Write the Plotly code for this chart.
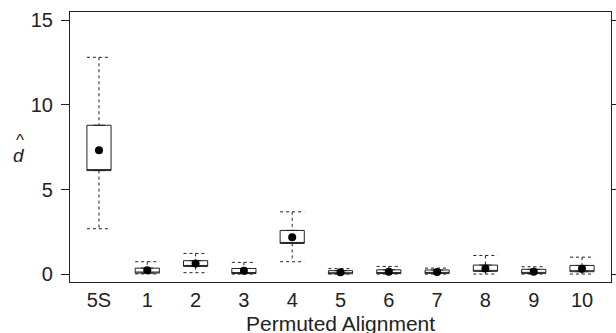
import plotly.graph_objects as go

categories = ["5S", "1", "2", "3", "4", "5", "6", "7", "8", "9", "10"]
upper_whisker = [12.82, 0.73, 1.22, 0.69, 3.68, 0.32, 0.45, 0.35, 1.10, 0.43, 1.00]
q3_values = [8.80, 0.35, 0.79, 0.33, 2.58, 0.20, 0.25, 0.24, 0.53, 0.28, 0.51]
q1_values = [6.12, 0.06, 0.45, 0.03, 1.81, 0.02, 0.03, 0.04, 0.16, 0.04, 0.14]
lower_whisker = [2.68, 0.01, 0.08, 0.0, 0.73, 0.0, 0.0, 0.0, 0.0, 0.0, 0.0]
mean_values = [7.32, 0.22, 0.63, 0.20, 2.17, 0.10, 0.14, 0.12, 0.33, 0.14, 0.31]
y_ticks = [0, 5, 10, 15]

positions = list(range(len(categories)))
half = 0.25
FONT = "Liberation Sans, Arial, Helvetica, sans-serif"

fig = go.Figure()

# dashed whiskers with caps
wx, wy = [], []
for p, hi, q3, q1, lo in zip(positions, upper_whisker, q3_values, q1_values, lower_whisker):
    wx += [p - half, p + half, None, p, p, None, p, p, None, p - half, p + half, None]
    wy += [hi, hi, None, hi, q3, None, q1, lo, None, lo, lo, None]
fig.add_trace(go.Scatter(x=wx, y=wy, mode="lines",
                         line=dict(color="#222", width=1, dash="3px,3px"),
                         hoverinfo="skip", showlegend=False))

# boxes (median line is hidden on the lower edge; the dot marks the centre)
fig.add_trace(go.Box(
    x=positions, q1=q1_values, median=q1_values, q3=q3_values,
    lowerfence=q1_values, upperfence=q3_values,
    width=0.5, fillcolor="white", line=dict(color="#222", width=1),
    showlegend=False, boxpoints=False))

fig.add_trace(go.Scatter(x=positions, y=mean_values, mode="markers",
                         marker=dict(color="black", size=8),
                         showlegend=False))

fig.update_layout(
    width=616, height=333,
    margin=dict(l=70, r=5, t=12, b=51),
    paper_bgcolor="white", plot_bgcolor="white",
    font=dict(family=FONT, size=20, color="#222"),
    xaxis=dict(range=[-0.6, 10.6], tickvals=positions, ticktext=categories,
               ticks="", showline=True, linecolor="#222", linewidth=1.2, mirror=True,
               showgrid=False, zeroline=False, ticklabelstandoff=0, automargin=False),
    yaxis=dict(range=[-0.47, 15.5], tickvals=y_ticks, ticks="outside", ticklen=8,
               tickcolor="#222", tickwidth=1, showline=True, linecolor="#222",
               linewidth=1.2, mirror="ticks", showgrid=False, zeroline=False,
               ticklabelstandoff=4, automargin=False),
    annotations=[
        dict(text="Permuted Alignment", xref="paper", yref="paper", x=0.5, y=0,
             yshift=-28, xanchor="center", yanchor="top", showarrow=False,
             font=dict(family=FONT, size=21, color="#222")),
        dict(text="<i>d</i>", xref="paper", yref="paper", x=0, y=0.5,
             xshift=-51, yshift=-8, xanchor="center", yanchor="middle", showarrow=False,
             font=dict(family=FONT, size=19, color="#222")),
        dict(text="^", xref="paper", yref="paper", x=0, y=0.5,
             xshift=-50, yshift=7, xanchor="center", yanchor="middle", showarrow=False,
             font=dict(family=FONT, size=17, color="#222")),
    ],
)

fig.write_html("out.html", config={"displayModeBar": False},
               post_script="document.body.style.margin='0';")
